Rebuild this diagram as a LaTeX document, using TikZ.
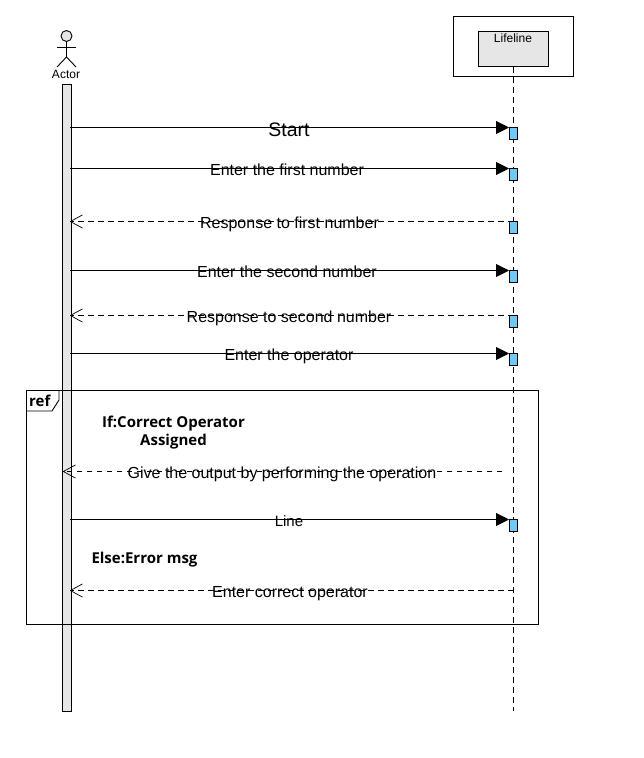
\documentclass[tikz,border=0pt]{standalone}
\usepackage{fontspec}
\setmainfont{Liberation Sans}
\newfontfamily\boldlabel{Open Sans}
\usetikzlibrary{arrows.meta}
\tikzset{
  lnk/.style={line width=0.9pt,black},
  syncmsg/.style={lnk,-{Triangle[length=13pt,width=13pt]}},
  retmsg/.style={lnk,dash pattern=on 5.5pt off 4.5pt,-{Straight Barb[length=12pt,width=13pt,line width=0.7pt,round=false]}},
  lab/.style={inner sep=0pt,font=\fontsize{16}{18}\selectfont,text=black},
  boldlab/.style={inner sep=0pt,font=\boldlabel\bfseries\fontsize{15}{18}\selectfont,text=black},
  small/.style={inner sep=0pt,font=\fontsize{12}{14}\selectfont},
  activation/.style={draw=black,line width=1pt,minimum width=8pt,minimum height=12pt,inner sep=0pt},
  box/.style={draw=black,line width=1pt,inner sep=0pt},
}
\begin{document}
\begin{tikzpicture}[x=1pt,y=-1pt]
\useasboundingbox (0,0) rectangle (644,758);
\definecolor{act}{RGB}{110,200,248}
\definecolor{grayf}{RGB}{230,230,230}
% Lifeline header
\node[box,minimum width=120pt,minimum height=60pt] (outer) at (513.5,46.5) {};
\node[box,fill=grayf,minimum width=70.5pt,minimum height=35pt] (inner) at (513.25,49) {};
\node[small,anchor=north] (lifelab) at (513,34) {Lifeline};
\coordinate (lifeend) at (513.5,711);
\draw[lnk,dash pattern=on 6pt off 4pt] (inner.south) -- (inner.south |- lifeend);
% Actor
\node[box,circle,fill=grayf,minimum size=11pt,line width=0.9pt] (head) at (66.5,36) {};
\coordinate (hip) at (66.5,57);
\coordinate (armL) at (57,47);
\coordinate (armR) at (76,47);
\coordinate (legL) at (57,67);
\coordinate (legR) at (76,67);
\draw[lnk] (head.south) -- (hip);
\draw[lnk] (armL) -- (armR);
\draw[lnk] (legL) -- (hip) -- (legR);
\node[small] (actlab) at (66,74) {Actor};
\node[box,line width=0.9pt,fill=grayf,minimum width=9pt,minimum height=627pt] (bar) at (66.5,397.5) {};
% Frame
\node[box,minimum width=512pt,minimum height=234pt] (frame) at (282.5,507.5) {};
\coordinate (t1) at (59,390.5);
\coordinate (t2) at (59,400);
\coordinate (t3) at (52,411);
\coordinate (t4) at (26.5,411);
\draw[line width=0.9pt] (t1) -- (t2) -- (t3) -- (t4);
\node[boldlab,anchor=base west] (ref) at (29,406.5) {ref};
% Activations
\foreach \n/\y in {a1/133.5,a2/174.5,a3/227.5,a4/276.5,a5/321.5,a6/359.5,a7/525.5}
  \node[activation,fill=act] (\n) at (513.5,\y) {};
% Messages
\coordinate (s1) at (70,127.5);
\coordinate (s2) at (70,168.5);
\coordinate (s3) at (70,221.5);
\coordinate (s4) at (70,270.5);
\coordinate (s5) at (70,315.5);
\coordinate (s6) at (70,353.5);
\coordinate (s7) at (63,471.5);
\coordinate (s8) at (70,519.5);
\coordinate (s9) at (70,590.5);
\coordinate (e7) at (502,471.5);
\coordinate (e9) at (513.5,590.5);
\draw[syncmsg] (s1) -- (s1 -| a1.west);
\draw[syncmsg] (s2) -- (s2 -| a2.west);
\draw[retmsg] (s3 -| a3.north) -- (s3);
\draw[syncmsg] (s4) -- (s4 -| a4.west);
\draw[retmsg] (s5 -| a5.north) -- (s5);
\draw[syncmsg] (s6) -- (s6 -| a6.west);
\draw[retmsg] (e7) -- (s7);
\draw[syncmsg] (s8) -- (s8 -| a7.west);
\draw[retmsg] (e9) -- (s9);
% Labels
\node[lab,font=\fontsize{19.5}{22}\selectfont] (l1) at (289,129.5) {Start};
\node[lab] (l2) at (287,170) {Enter the first number};
\node[lab] (l3) at (289.5,224) {Response to first number};
\node[lab] (l4) at (287,272) {Enter the second number};
\node[lab] (l5) at (289,318) {Response to second number};
\node[lab] (l6) at (289,356) {Enter the operator};
\node[lab] (l7) at (282,474) {Give the output by performing the operation};
\node[lab,font=\fontsize{15}{17}\selectfont] (l8) at (289,521) {Line};
\node[lab] (l9) at (290,593.5) {Enter correct operator};
\node[boldlab,align=center] (c1) at (173.5,433) {If:Correct Operator\\Assigned};
\node[boldlab] (c2) at (144.5,560) {Else:Error msg};
\end{tikzpicture}
\end{document}
